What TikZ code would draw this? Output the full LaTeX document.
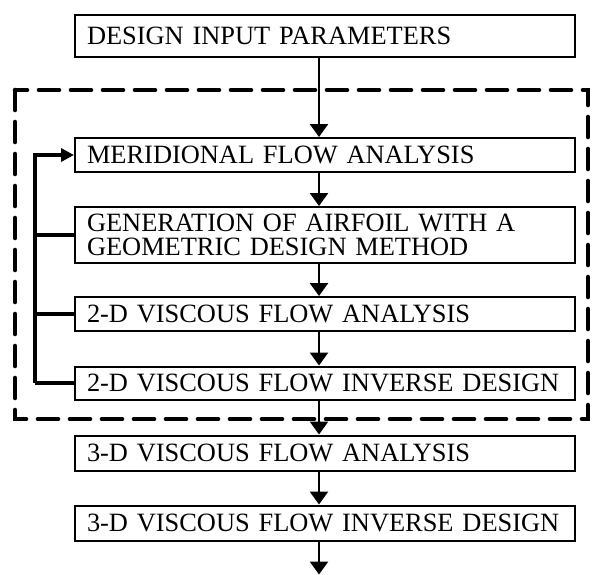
\documentclass[tikz,border=0pt]{standalone}
\usepackage{fontspec}
\setmainfont{Liberation Serif}
\usepackage{tikz}
\usetikzlibrary{arrows.meta,positioning,calc}

\tikzset{
  stage/.style={draw,line width=1pt,text width=238pt,align=left,inner xsep=6pt,
    inner ysep=1pt,minimum height=17pt,font=\fontsize{13.2}{12}\selectfont},
  flow/.style={-{Triangle[width=9pt,length=6.5pt]},line width=1.3pt},
  loop/.style={line width=1.7pt},
  back/.style={-{Triangle[width=6.5pt,length=6.5pt]},line width=1.7pt},
  block/.style={line width=2.3pt,dash pattern=on 10pt off 6pt,line cap=round}
}

\begin{document}
\begin{tikzpicture}[x=0.5pt,y=-0.5pt]
  \useasboundingbox (0,0) rectangle (592,574);

  % iterative 2-D design block
  \draw[block] (15,90) rectangle (588,419);

  \node[stage,minimum height=21pt] (dip) at (325,36)  {DESIGN INPUT PARAMETERS};
  \node[stage]                     (mer) at (325,155) {MERIDIONAL FLOW ANALYSIS};
  \node[stage,minimum height=28pt] (gen) at (325,235) {GENERATION OF AIRFOIL WITH A\\GEOMETRIC DESIGN METHOD};
  \node[stage]                     (tda) at (325,314) {2-D VISCOUS FLOW ANALYSIS};
  \node[stage,minimum height=16.5pt] (tdi) at (325,383) {2-D VISCOUS FLOW INVERSE DESIGN};
  \node[stage,minimum height=17.5pt] (sda) at (325,453) {3-D VISCOUS FLOW ANALYSIS};
  \node[stage,minimum height=17.5pt] (sdi) at (325,523) {3-D VISCOUS FLOW INVERSE DESIGN};

  \draw[flow] ([xshift=-3pt]dip.south) -- ([xshift=-3pt]mer.north);
  \draw[flow] ([xshift=-3pt]mer.south) -- ([xshift=-3pt]gen.north);
  \draw[flow] ([xshift=-3pt]gen.south) -- ([xshift=-3pt]tda.north);
  \draw[flow] ([xshift=-3pt]tda.south) -- ([xshift=-3pt]tdi.north);
  \draw[flow] ([xshift=-3pt]tdi.south) -- ([xshift=-3pt]sda.north);
  \draw[flow] ([xshift=-3pt]sda.south) -- ([xshift=-3pt]sdi.north);
  \coordinate (out) at ([xshift=-3pt,yshift=-16.5pt]sdi.south);
  \draw[flow] ([xshift=-3pt]sdi.south) -- (out);

  % feedback loop
  \coordinate (bus) at (35,383);
  \draw[loop] (tdi.west) -- (bus);
  \draw[back] (bus) |- (mer.west);
  \draw[loop] (gen.west) -- (gen.west -| bus);
  \draw[loop] (tda.west) -- (tda.west -| bus);
\end{tikzpicture}
\end{document}
